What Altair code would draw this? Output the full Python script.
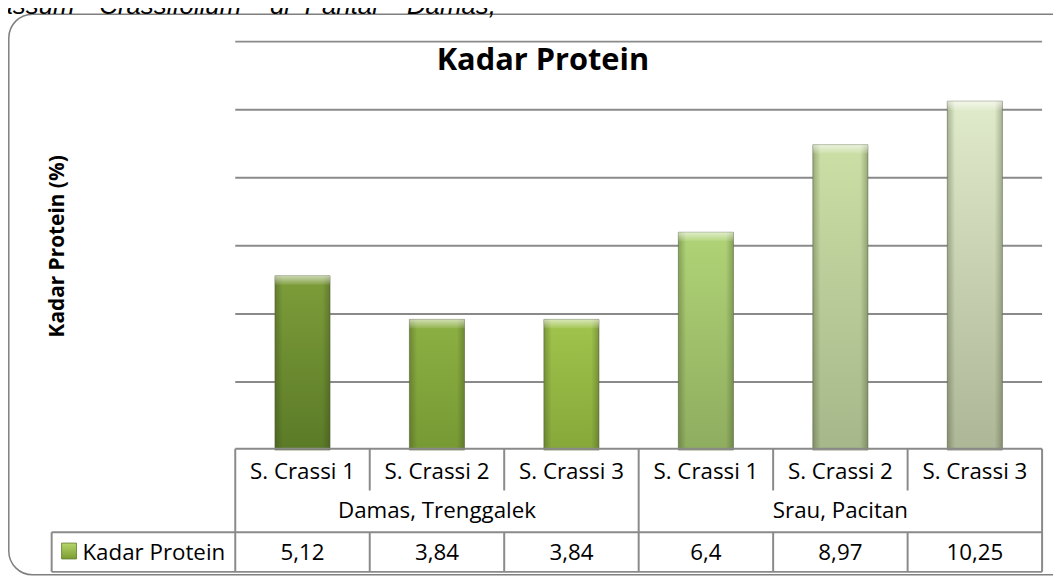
import altair as alt
import pandas as pd

# ---------------- data ----------------
groups = ["Damas, Trenggalek", "Damas, Trenggalek", "Damas, Trenggalek",
          "Srau, Pacitan", "Srau, Pacitan", "Srau, Pacitan"]
labels = ["S. Crassi 1", "S. Crassi 2", "S. Crassi 3",
          "S. Crassi  1", "S. Crassi 2", "S. Crassi 3"]
values = [5.12, 3.84, 3.84, 6.4, 8.97, 10.25]
grid_values = [2, 4, 6, 8, 10, 12]
series_name = "Kadar Protein"
chart_title = "Kadar Protein"
y_title = "Kadar Protein (%)"
caption_words = ["assum", "Crassifolium", "di", "Pantai", "Damas,"]

# ---------------- styles ----------------
bar_top = ["#7d9d3a", "#8db043", "#a0c44c", "#b0d376", "#cbdfa5", "#e0ebcb"]
bar_bottom = ["#5b7a27", "#779934", "#86a83a", "#8fad5f", "#a6b78a", "#adb697"]
line_col = "#8a8a8a"
FONT = "Open Sans"

ids = [f"{g} | {l}" for g, l in zip(groups, labels)]
df = pd.DataFrame({
    "id": ids, "group": groups, "label": labels, "v": values,
    "vtxt": [f"{v:g}".replace(".", ",") for v in values],
})

group_names = list(dict.fromkeys(groups))
gmid = []
for g in group_names:
    members = [i for i, gg in zip(ids, groups) if gg == g]
    gmid.append({"id": members[len(members) // 2], "group": g})
df_groups = pd.DataFrame(gmid)

bounds = []
for k, (i, g) in enumerate(zip(ids, groups)):
    first = k == 0 or groups[k - 1] != g
    bounds.append({"id": i, "kind": "outer" if first else "inner"})
df_bounds = pd.DataFrame(bounds)

xs = alt.Scale(domain=ids, range=[229, 1042], paddingInner=0, paddingOuter=0)
ys = alt.Scale(domain=[0, 12], range=[443.3, 31.7], nice=False, zero=True)
X = alt.X("id:N", scale=xs, axis=None)
BW = alt.RelativeBandSize(0.41)

layers = []

# outer rounded frame
layers.append(alt.Chart(pd.DataFrame({"a": [0]})).mark_rect(
    cornerRadius=24, fillOpacity=0, stroke="#7f7f7f", strokeWidth=1.5
).encode(x=alt.value(0.8), x2=alt.value(1080), y=alt.value(4), y2=alt.value(569)))

# caption words (cut at top, as in the source page)
cap_pos = [67, 92, 264, 299, 402]
cap_align = ["right", "left", "left", "left", "left"]
for w, px, al in zip(caption_words, cap_pos, cap_align):
    layers.append(alt.Chart(pd.DataFrame({"t": [w]})).mark_text(
        font="Liberation Sans", fontSize=26, fontStyle="italic", align=al,
        baseline="alphabetic", color="#000000"
    ).encode(text="t:N", x=alt.value(px), y=alt.value(4)))

# gridlines
layers.append(alt.Chart(pd.DataFrame({"g": grid_values})).mark_rule(
    color=line_col, strokeWidth=2
).encode(y=alt.Y("g:Q", scale=ys, axis=None), x=alt.value(229), x2=alt.value(1042)))

# bars with gradients
for i, (cid, ct, cb) in enumerate(zip(ids, bar_top, bar_bottom)):
    grad = alt.Gradient(gradient="linear", x1=0, y1=0, x2=0, y2=1,
                        stops=[alt.GradientStop(color=ct, offset=0),
                               alt.GradientStop(color=cb, offset=1)])
    layers.append(alt.Chart(df).transform_filter(alt.datum.id == cid).mark_bar(
        width=BW, fill=grad, stroke="#5f6a48", strokeOpacity=0.55, strokeWidth=1
    ).encode(x=X, y=alt.Y("v:Q", scale=ys, axis=None)))

# side shading
shade = alt.Gradient(gradient="linear", x1=0, y1=0, x2=1, y2=0, stops=[
    alt.GradientStop(color="rgba(40,50,20,0.30)", offset=0),
    alt.GradientStop(color="rgba(40,50,20,0.0)", offset=0.14),
    alt.GradientStop(color="rgba(40,50,20,0.0)", offset=0.86),
    alt.GradientStop(color="rgba(40,50,20,0.30)", offset=1)])
layers.append(alt.Chart(df).mark_bar(width=BW, fill=shade).encode(
    x=X, y=alt.Y("v:Q", scale=ys, axis=None)))

# top bevel highlight
hl = alt.Gradient(gradient="linear", x1=0, y1=0, x2=0, y2=1, stops=[
    alt.GradientStop(color="rgba(255,255,255,0.6)", offset=0),
    alt.GradientStop(color="rgba(255,255,255,0.08)", offset=1)])
layers.append(alt.Chart(df).transform_calculate(vt="datum.v - 0.26").mark_bar(
    width=BW, fill=hl).encode(x=X, y=alt.Y("v:Q", scale=ys, axis=None), y2="vt:Q"))

# chart title
layers.append(alt.Chart(pd.DataFrame({"t": [chart_title]})).mark_text(
    font=FONT, fontSize=31, fontWeight="bold", align="center", baseline="alphabetic",
    color="#000000").encode(text="t:N", x=alt.value(539), y=alt.value(60)))

# y title
layers.append(alt.Chart(pd.DataFrame({"t": [y_title]})).mark_text(
    font=FONT, fontSize=21, fontWeight="bold", align="center", baseline="middle",
    angle=270, color="#000000").encode(text="t:N", x=alt.value(50), y=alt.value(238)))

# table horizontal lines
for y0, x0 in [(442, 229), (526, 44), (566, 44)]:
    layers.append(alt.Chart(pd.DataFrame({"a": [0]})).mark_rule(
        color=line_col, strokeWidth=2).encode(
        x=alt.value(x0), x2=alt.value(1042), y=alt.value(y0)))

# table vertical lines
layers.append(alt.Chart(df_bounds).transform_filter(alt.datum.kind == "outer").mark_rule(
    color=line_col, strokeWidth=2).encode(
    x=alt.X("id:N", scale=xs, axis=None, bandPosition=0), y=alt.value(442), y2=alt.value(566)))
for y0, y1 in [(442, 484), (526, 566)]:
    layers.append(alt.Chart(df_bounds).transform_filter(alt.datum.kind == "inner").mark_rule(
        color=line_col, strokeWidth=2).encode(
        x=alt.X("id:N", scale=xs, axis=None, bandPosition=0), y=alt.value(y0), y2=alt.value(y1)))
layers.append(alt.Chart(df.tail(1)).mark_rule(color=line_col, strokeWidth=2).encode(
    x=alt.X("id:N", scale=xs, axis=None, bandPosition=1), y=alt.value(442), y2=alt.value(566)))
layers.append(alt.Chart(pd.DataFrame({"a": [0]})).mark_rule(color=line_col, strokeWidth=2).encode(
    x=alt.value(44), y=alt.value(526), y2=alt.value(566)))

# table texts
txt = dict(font=FONT, fontSize=22.5, align="center", baseline="middle", color="#000000")
layers.append(alt.Chart(df).mark_text(**txt).encode(x=X, y=alt.value(465), text="label:N"))
layers.append(alt.Chart(df_groups).mark_text(**txt).encode(x=X, y=alt.value(505), text="group:N"))
layers.append(alt.Chart(df).mark_text(**txt).encode(x=X, y=alt.value(547), text="vtxt:N"))

# legend key + name
key_grad = alt.Gradient(gradient="linear", x1=0, y1=0, x2=0, y2=1, stops=[
    alt.GradientStop(color="#b6d66a", offset=0),
    alt.GradientStop(color="#7a9c30", offset=1)])
layers.append(alt.Chart(pd.DataFrame({"a": [0]})).mark_rect(
    fill=key_grad, stroke="#5f7a2a", strokeWidth=0.8).encode(
    x=alt.value(54), x2=alt.value(69), y=alt.value(537), y2=alt.value(553)))
layers.append(alt.Chart(pd.DataFrame({"t": [series_name]})).mark_text(
    font=FONT, fontSize=22.5, align="left", baseline="middle", color="#000000").encode(
    text="t:N", x=alt.value(75), y=alt.value(547)))

chart = alt.layer(*layers).properties(
    width=1053, height=571, padding=0, background="#ffffff",
    autosize=alt.AutoSizeParams(type="none"),
).configure_view(stroke=None)

chart.save("out.html", embed_options={"renderer": "svg", "actions": False})
